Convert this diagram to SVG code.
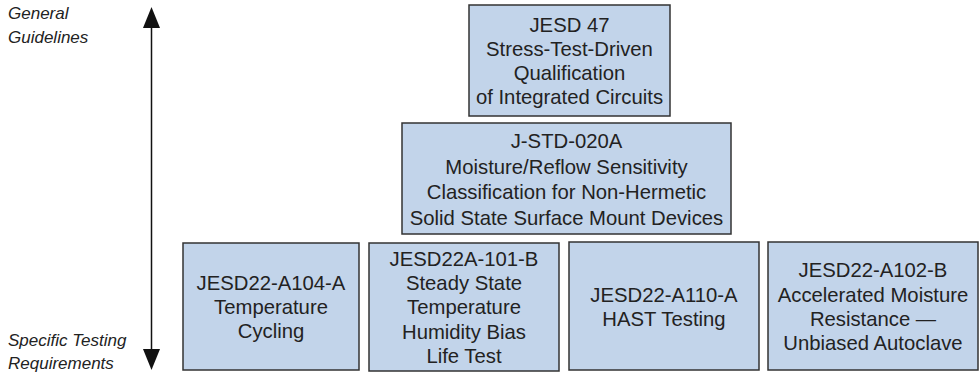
<svg xmlns="http://www.w3.org/2000/svg" width="980" height="373" viewBox="0 0 980 373">
<style>
.box{fill:#c2d4ea;stroke:#333;stroke-width:1.5}
.t{font-family:"Liberation Sans",Arial,sans-serif;font-size:20.3px;fill:#222;text-anchor:middle}
.lab{font-family:"Liberation Sans",Arial,sans-serif;font-size:17px;font-style:italic;fill:#222}
</style>
<rect width="980" height="373" fill="#fff"/>
<g id="connectors">
<line x1="151.5" y1="26" x2="151.5" y2="351" stroke="#111" stroke-width="1.5"/>
<polygon points="151.5,7 143,28 160,28" fill="#111"/>
<polygon points="151.5,370 143,349 160,349" fill="#111"/>
</g>
<g id="label-general">
<text class="lab" x="8" y="19">General</text>
<text class="lab" x="8" y="43">Guidelines</text>
</g>
<g id="label-specific">
<text class="lab" x="8" y="346">Specific Testing</text>
<text class="lab" x="8" y="369">Requirements</text>
</g>
<g id="jesd47">
<rect class="box" x="469" y="5" width="201" height="111"/>
<text class="t" x="569.5" y="32">JESD 47</text>
<text class="t" x="569.5" y="56">Stress-Test-Driven</text>
<text class="t" x="569.5" y="80">Qualification</text>
<text class="t" x="569.5" y="104">of Integrated Circuits</text>
</g>
<g id="jstd020a">
<rect class="box" x="402" y="123" width="329" height="111"/>
<text class="t" x="566.5" y="148">J-STD-020A</text>
<text class="t" x="566.5" y="173.5">Moisture/Reflow Sensitivity</text>
<text class="t" x="566.5" y="199">Classification for Non-Hermetic</text>
<text class="t" x="566.5" y="224.5">Solid State Surface Mount Devices</text>
</g>
<g id="a104">
<rect class="box" x="183" y="243" width="176" height="127"/>
<text class="t" x="271" y="290">JESD22-A104-A</text>
<text class="t" x="271" y="314">Temperature</text>
<text class="t" x="271" y="338">Cycling</text>
</g>
<g id="a101">
<rect class="box" x="369" y="243" width="190" height="128"/>
<text class="t" x="464" y="266">JESD22A-101-B</text>
<text class="t" x="464" y="290">Steady State</text>
<text class="t" x="464" y="314">Temperature</text>
<text class="t" x="464" y="339">Humidity Bias</text>
<text class="t" x="464" y="363">Life Test</text>
</g>
<g id="a110">
<rect class="box" x="569" y="242" width="190" height="128"/>
<text class="t" x="664" y="302">JESD22-A110-A</text>
<text class="t" x="664" y="326">HAST Testing</text>
</g>
<g id="a102">
<rect class="box" x="768" y="242" width="210" height="128"/>
<text class="t" x="873" y="277">JESD22-A102-B</text>
<text class="t" x="873" y="302">Accelerated Moisture</text>
<text class="t" x="873" y="326">Resistance —</text>
<text class="t" x="873" y="350">Unbiased Autoclave</text>
</g>
</svg>
